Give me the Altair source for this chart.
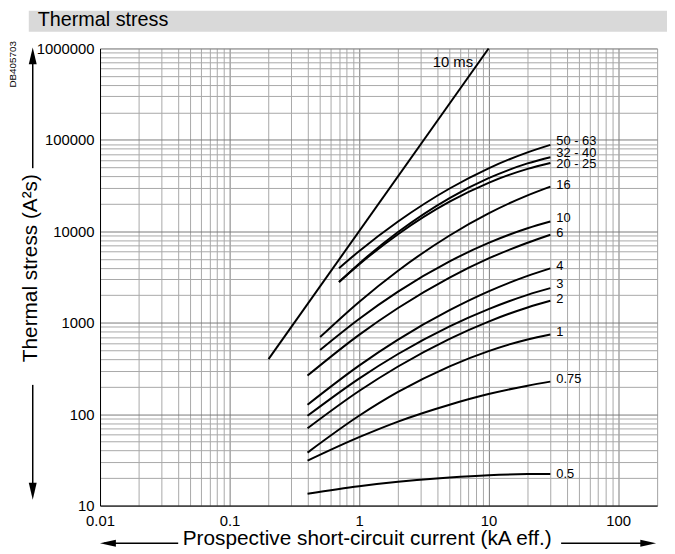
import altair as alt
import pandas as pd

# ---------------- data ----------------
FUSES = ["50 - 63", "32 - 40", "20 - 25", "16", "10", "6", "4", "3", "2", "1", "0.75", "0.5"]
X_START = [0.7, 0.7, 0.7, 0.5, 0.5, 0.4, 0.4, 0.4, 0.4, 0.4, 0.4, 0.4]
X_REST = [1, 2, 5, 10, 20, 30]
Y_50_63 = [3950, 6060, 12800, 29400, 48900, 73100, 88300]
Y_32_40 = [2790, 4430, 9810, 23100, 38100, 55300, 64700]
Y_20_25 = [2790, 4340, 9300, 21100, 33900, 48200, 56000]
Y_16 = [697, 1690, 3710, 9000, 15700, 24700, 30800]
Y_10 = [504, 1100, 2190, 4690, 7460, 10800, 12800]
Y_6 = [264, 736, 1450, 3120, 5050, 7500, 9170]
Y_4 = [127, 340, 654, 1370, 2200, 3250, 3930]
Y_3 = [96, 245, 455, 914, 1410, 2020, 2390]
Y_2 = [70, 179, 332, 667, 1030, 1470, 1740]
Y_1 = [38, 96, 175, 334, 490, 657, 745]
Y_075 = [31, 56, 83, 127, 166, 205, 227]
Y_05 = [13.5, 16.3, 18.2, 20.3, 21.5, 22.1, 22.2]
Y_ALL = [Y_50_63, Y_32_40, Y_20_25, Y_16, Y_10, Y_6, Y_4, Y_3, Y_2, Y_1, Y_075, Y_05]
LABEL_X = 30
LABEL_Y = [96000, 71800, 53800, 31800, 14000, 9530, 4160, 2640, 1815, 783, 243, 22.2]
MS10_X = [0.2, 10]
MS10_Y = [400, 1000000]
MS10_LABEL = ("10 ms", 5.3, 705000)
X_DOMAIN = [0.01, 200]
Y_DOMAIN = [10, 1000000]

FONT = "Liberation Sans, Arial, sans-serif"

rows = []
for name, xs, ys in zip(FUSES, X_START, Y_ALL):
    for xv, yv in zip([xs] + X_REST, ys):
        rows.append({"fuse": name, "current": xv, "stress": yv})
curves = pd.DataFrame(rows)
labels = pd.DataFrame({"fuse": FUSES, "current": [LABEL_X] * len(FUSES), "stress": LABEL_Y})
ms10 = pd.DataFrame({"current": MS10_X, "stress": MS10_Y})
ms10_lab = pd.DataFrame({"t": [MS10_LABEL[0]], "current": [MS10_LABEL[1]], "stress": [MS10_LABEL[2]]})

x_grid = [k * 10 ** e for e in range(-2, 3) for k in range(1, 10) if k * 10 ** e <= 200]
y_grid = [k * 10 ** e for e in range(1, 7) for k in range(1, 10) if k * 10 ** e <= 1000000]

decade = "abs(log(datum.value)/LN10 - round(log(datum.value)/LN10)) < 0.001"
grid_color = {"condition": {"test": decade, "value": "#7a7a7a"}, "value": "#a8a8a8"}

xscale = alt.Scale(type="log", domain=X_DOMAIN, nice=False)
yscale = alt.Scale(type="log", domain=Y_DOMAIN, nice=False)
xaxis = alt.Axis(values=x_grid, grid=True, gridColor=grid_color, gridWidth=1, tickSize=0,
                 labelExpr=f"({decade}) && datum.value <= 100 ? format(datum.value, '.2~f') : ''",
                 labelFontSize=15, labelColor="black", labelFont=FONT, labelPadding=8,
                 labelFlush=False, labelOverlap=False, domainColor="black", title=None)
yaxis = alt.Axis(values=y_grid, grid=True, gridColor=grid_color, gridWidth=1, tickSize=0,
                 labelExpr=f"({decade}) ? format(datum.value, 'd') : ''",
                 labelFontSize=15, labelColor="black", labelFont=FONT, labelPadding=6,
                 labelFlush=False, labelOverlap=False, domainColor="black", title=None)

X = alt.X("current:Q", scale=xscale, axis=xaxis)
Y = alt.Y("stress:Q", scale=yscale, axis=yaxis)

curve_layer = alt.Chart(curves).mark_line(color="black", strokeWidth=2, interpolate="monotone").encode(
    x=X, y=Y, detail="fuse:N")
ms_layer = alt.Chart(ms10).mark_line(color="black", strokeWidth=2).encode(x=X, y=Y)
label_layer = alt.Chart(labels).mark_text(align="left", baseline="middle", dx=6, fontSize=13,
                                          font=FONT, color="black").encode(
    x=alt.X("current:Q", scale=xscale), y=alt.Y("stress:Q", scale=yscale), text="fuse:N")
ms_label_layer = alt.Chart(ms10_lab).mark_text(align="center", baseline="middle", fontSize=15,
                                               font=FONT, color="black").encode(
    x=alt.X("current:Q", scale=xscale), y=alt.Y("stress:Q", scale=yscale), text="t:N")

one = pd.DataFrame({"a": [0]})


def txt(s, x, y, size, angle=0, align="center", baseline="middle"):
    return alt.Chart(one).mark_text(text=s, fontSize=size, font=FONT, color="black", angle=angle,
                                    align=align, baseline=baseline).encode(
        x=alt.value(x), y=alt.value(y))


def rule(x1, y1, x2, y2):
    return alt.Chart(one).mark_rule(color="black", strokeWidth=1.5).encode(
        x=alt.value(x1), y=alt.value(y1), x2=alt.value(x2), y2=alt.value(y2))


def head(path, x, y, size):
    return alt.Chart(one).mark_point(shape=path, filled=True, size=size, color="black",
                                     opacity=1, strokeWidth=0).encode(x=alt.value(x), y=alt.value(y))


bar = alt.Chart(one).mark_rect(color="#d9d9d9").encode(
    x=alt.value(-72), x2=alt.value(580), y=alt.value(-38), y2=alt.value(-17))

deco = [
    bar,
    txt("Thermal stress", -63, -23, 20, align="left", baseline="alphabetic"),
    txt("DB405703", -88, 16, 10, angle=270),
    txt("Thermal stress (A²s)", -70, 222, 21, angle=270),
    txt("Prospective short-circuit current (kA eff.)", 270, 502, 21, baseline="alphabetic"),
    rule(-68, 14, -68, 121),
    rule(-68, 340, -68, 444),
    rule(4, 500, 79, 500),
    rule(466, 500, 554, 500),
    head("M0,-1L0.47,1L-0.47,1Z", -68, 7.5, 289),
    head("M0,1L0.47,-1L-0.47,-1Z", -68, 447.5, 289),
    head("M-1,0L1,-0.45L1,0.45Z", 8, 500, 256),
    head("M1,0L-1,-0.45L-1,0.45Z", 554, 500, 256),
]

chart = alt.layer(curve_layer, ms_layer, label_layer, ms_label_layer, *deco).properties(
    width=563, height=462,
    autosize=alt.AutoSizeParams(type="none"),
    padding={"left": 93, "top": 38, "right": 10, "bottom": 43},
).configure_view(stroke="black", strokeWidth=1).configure(background="white")

chart.save("out.html", embed_options={"renderer": "svg", "actions": False})
